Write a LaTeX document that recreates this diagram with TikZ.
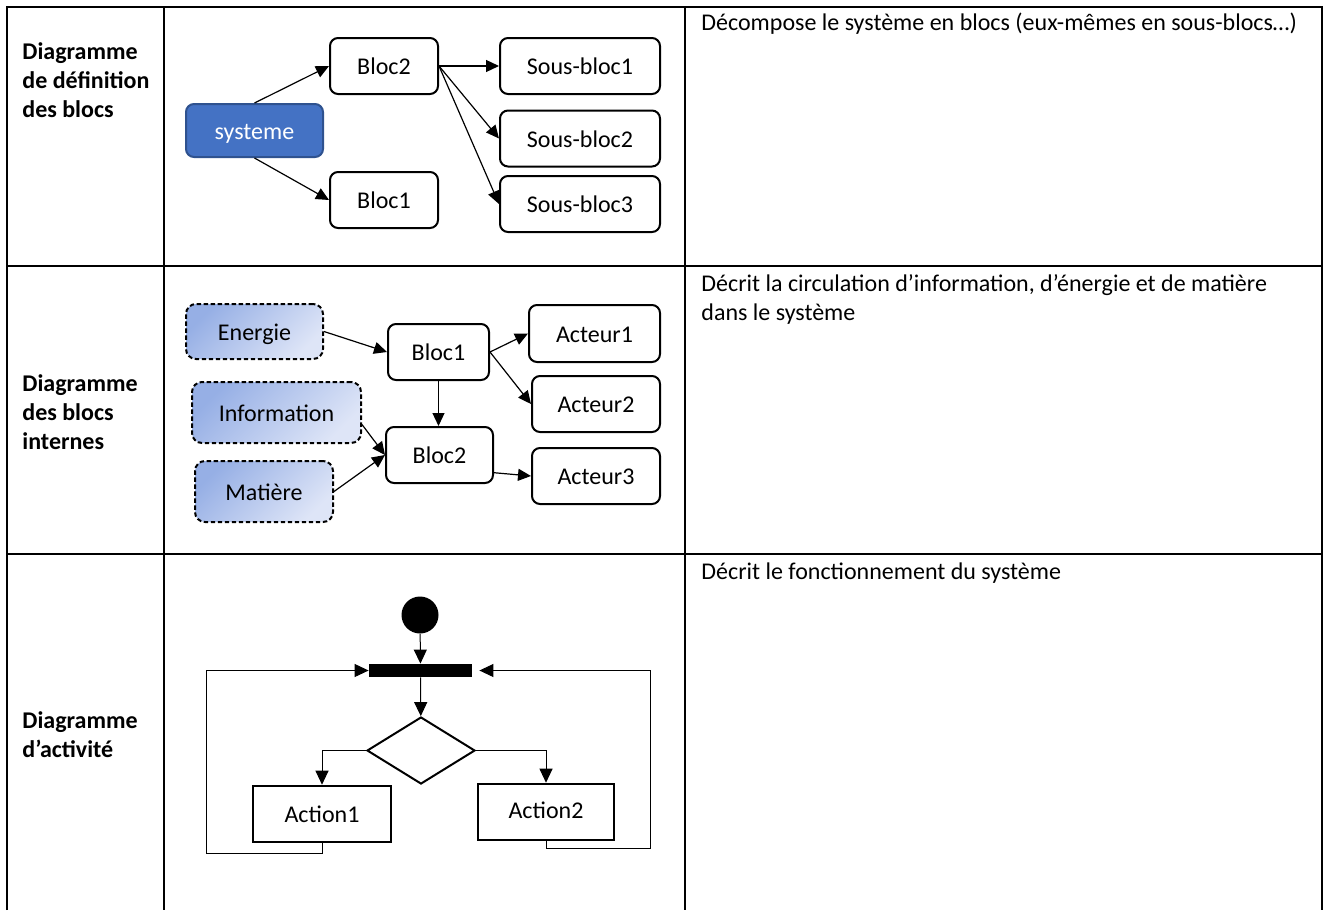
\documentclass[tikz,border=0pt]{standalone}
\usepackage{fontspec}
\setmainfont{Carlito}
\usetikzlibrary{arrows.meta,shapes.geometric}
\definecolor{sysblue}{RGB}{68,114,196}
\definecolor{sysedge}{RGB}{47,82,143}
\definecolor{flowA}{RGB}{150,175,229}
\definecolor{flowB}{RGB}{222,229,247}
\begin{document}
\begin{tikzpicture}[x=0.5pt, y=-0.5pt, font=\fontsize{12}{14.5}\selectfont,
		blk/.style={draw, line width=1pt, rounded corners=4pt, minimum height=28pt, inner sep=0pt, text height=8.5pt, text depth=0pt},
		sysblk/.style={blk, fill=sysblue, draw=sysedge, text=white},
		flow/.style={blk, dash pattern=on 2.2pt off 1.3pt, rounded corners=5pt, top color=flowA, bottom color=flowB, shading angle=45},
		actbox/.style={draw, line width=1.3pt, minimum height=28pt, inner sep=0pt, text height=8.5pt, text depth=0pt},
		arr/.style={-{Triangle[length=6.5pt, width=6pt]}, line width=0.6pt},
		loopline/.style={-{Triangle[length=7pt, width=6.5pt]}, line width=0.5pt},
		head/.style={anchor=base west, align=left, inner sep=0pt, font=\fontsize{12}{14.5}\selectfont\bfseries},
		desc/.style={anchor=base west, align=left, inner sep=0pt}]
		\useasboundingbox (0,0) rectangle (1325,910);
		\draw[line width=1pt] (7,910) -- (7,7) -- (1322,7) -- (1322,910);
		\draw[line width=1pt] (164,7) -- (164,910) (685,7) -- (685,910);
		\draw[line width=1pt] (7,266) -- (1322,266) (7,554) -- (1322,554);
		\node[head] (h1) at (22,117) {Diagramme\\de définition\\des blocs};
		\node[head] (h2) at (22,449) {Diagramme\\des blocs\\internes};
		\node[head] (h3) at (22,757) {Diagramme\\d’activité};
		\node[desc] (d1) at (701,30) {Décompose le système en blocs (eux-mêmes en sous-blocs…)};
		\node[desc] (d2) at (701,320) {Décrit la circulation d’information, d’énergie et de matière\\dans le système};
		\node[desc] (d3) at (701,579) {Décrit le fonctionnement du système};

		\node[sysblk, minimum width=68.5pt, minimum height=26.5pt] (sys) at (254.5,130.5) {systeme};
		\node[blk, minimum width=54pt] (b2) at (384,66) {Bloc2};
		\node[blk, minimum width=54pt] (b1) at (384,200) {Bloc1};
		\node[blk, minimum width=80pt] (sb1) at (580,66) {Sous-bloc1};
		\node[blk, minimum width=80pt] (sb2) at (580,138.5) {Sous-bloc2};
		\node[blk, minimum width=80pt] (sb3) at (580,204) {Sous-bloc3};
		\draw[arr] (sys.north) -- (b2.west);
		\draw[arr] (sys.south) -- (b1.west);
		\draw[arr] (b2.east) -- (sb1.west);
		\draw[arr] (b2.east) -- (sb2.west);
		\draw[arr] (b2.east) -- (sb3.west);

		\node[flow, minimum width=68.5pt, minimum height=27.5pt] (en) at (254.5,331.5) {Energie};
		\node[flow, minimum width=84.5pt, minimum height=30.5pt] (inf) at (276.5,412.5) {Information};
		\node[flow, minimum width=69pt, minimum height=30.5pt] (mat) at (264,491.5) {Matière};
		\node[blk, minimum width=50.5pt] (ib1) at (438.5,352) {Bloc1};
		\node[blk, minimum width=53.5pt] (ib2) at (439.5,455) {Bloc2};
		\node[blk, minimum width=65.5pt, minimum height=28.5pt] (ac1) at (594.5,333.5) {Acteur1};
		\node[blk, minimum width=64pt] (ac2) at (596,404) {Acteur2};
		\node[blk, minimum width=64pt] (ac3) at (596,476) {Acteur3};
		\draw[arr] (en.east) -- (ib1.west);
		\draw[arr] (ib1.east) -- (ac1.west);
		\draw[arr] (ib1.east) -- (ac2.west);
		\draw[arr] (ib1.south) -- (ib1.south |- ib2.north);
		\draw[arr] (inf.-8) -- (ib2.west);
		\draw[arr] (mat.east) -- (ib2.west);
		\draw[arr] (ib2.-18) -- (ac3.west);

		\node[circle, fill, minimum size=18.5pt, inner sep=0pt] (start) at (420,615) {};
		\node[fill, minimum width=51.5pt, minimum height=6.5pt, inner sep=0pt] (bar) at (420.5,670.5) {};
		\node[diamond, draw, line width=1pt, minimum width=54pt, minimum height=33.5pt, inner sep=0pt] (dec) at (421,750.5) {};
		\node[actbox, minimum width=69pt] (act1) at (322,814) {Action1};
		\node[actbox, minimum width=68pt, text depth=2pt] (act2) at (546,812) {Action2};
		\coordinate (loopL) at (206,853);
		\coordinate (loopR) at (650,848);
		\draw[loopline] (start) -- (bar);
		\draw[loopline] (bar) -- (dec);
		\draw[loopline] (dec.west) -| (act1.north);
		\draw[loopline] (dec.east) -| (act2.north);
		\draw[loopline] (act1.south) |- (loopL) |- (bar.west);
		\draw[loopline, shorten >=3.5pt] ([yshift=1pt]act2.south) |- (loopR) |- (bar.east);
	\end{tikzpicture}
\end{document}
